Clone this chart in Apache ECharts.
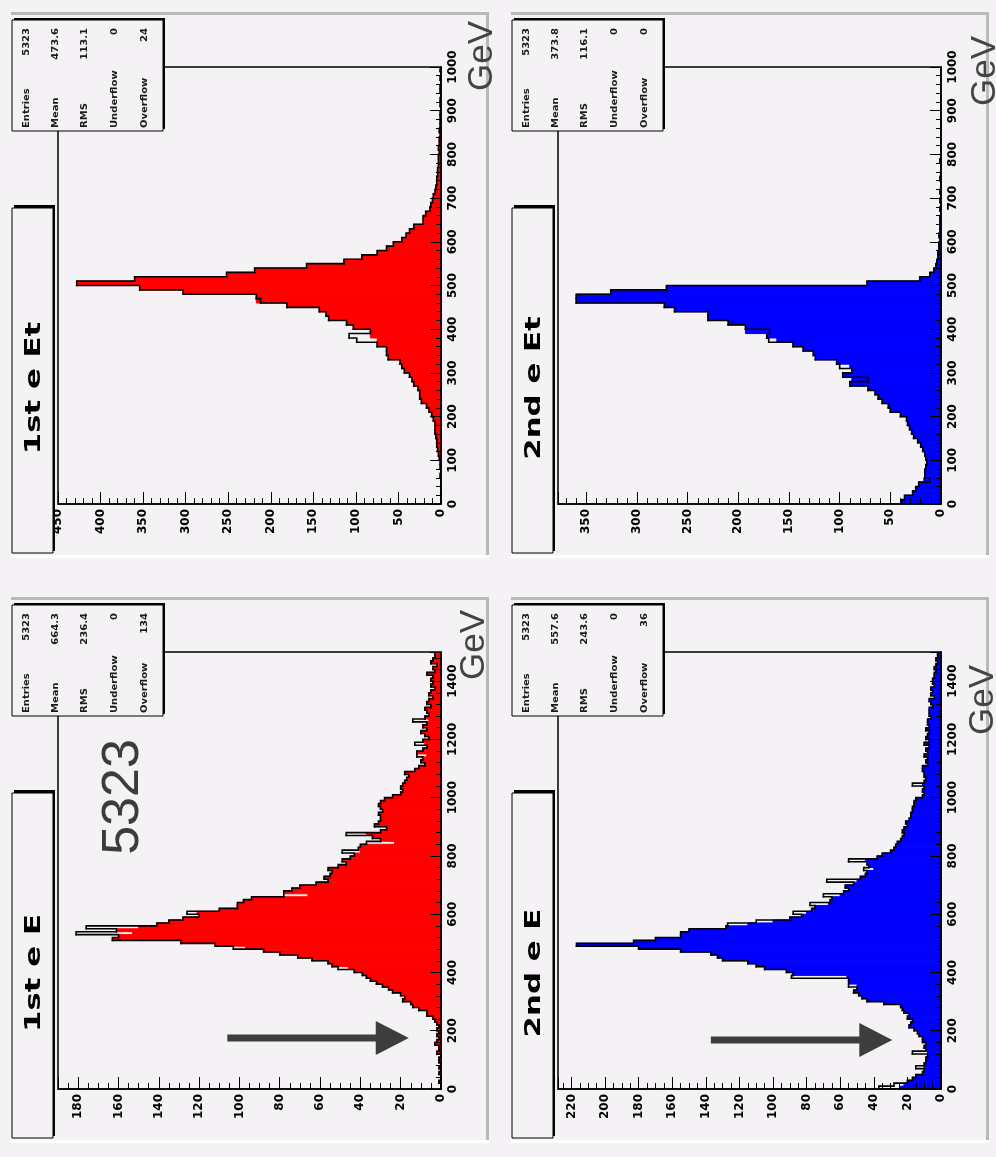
<!DOCTYPE html>
<html>
<head>
<meta charset="utf-8">
<script src="https://cdn.jsdelivr.net/npm/echarts@6/dist/echarts.min.js"></script>
<style>
html, body { margin: 0; padding: 0; background: #f5f2f5; }
#chart { width: 996px; height: 1157px; }
</style>
</head>
<body>
<div id="chart"></div>
<script>
// Electron energy spectra, 10 GeV bins. *_FILL = filled histogram, *_LINE = overlaid outline histogram.
const BIN_WIDTH = 10;

const STAT_NAMES = ['Entries', 'Mean', 'RMS', 'Underflow', 'Overflow'];
const STATS_ET1 = ['5323', '473.6', '113.1', '0', '24'];
const STATS_ET2 = ['5323', '373.8', '116.1', '0', '0'];
const STATS_E1 = ['5323', '664.3', '236.4', '0', '134'];
const STATS_E2 = ['5323', '557.6', '243.6', '0', '36'];

// 1st e Et, 0-1000 GeV
const ET1_FILL = [
  0, 0, 0, 0, 0, 0, 1, 0, 1, 1,
  2, 3, 4, 5, 5, 6, 7, 7, 7, 9,
  11, 14, 17, 23, 25, 25, 27, 32, 34, 37,
  43, 46, 48, 62, 64, 64, 75, 75, 83, 83,
  103, 111, 132, 135, 143, 181, 217, 217, 303, 354,
  428, 360, 252, 219, 158, 114, 93, 75, 64, 56,
  46, 41, 37, 32, 21, 21, 18, 13, 12, 10,
  9, 7, 6, 5, 5, 4, 4, 3, 3, 3,
  2, 3, 2, 2, 1, 2, 1, 1, 1, 1,
  0, 1, 1, 0, 1, 1, 0, 1, 0, 1
];
const ET1_LINE = [
  0, 0, 0, 0, 0, 0, 1, 0, 1, 1,
  2, 3, 4, 5, 5, 6, 7, 7, 7, 9,
  11, 14, 17, 23, 25, 25, 27, 32, 34, 37,
  43, 46, 48, 62, 64, 64, 75, 99, 108, 83,
  103, 111, 132, 135, 143, 181, 212, 217, 303, 354,
  428, 360, 252, 219, 158, 114, 93, 75, 64, 56,
  46, 41, 37, 32, 21, 21, 18, 13, 12, 10,
  9, 7, 6, 5, 5, 4, 4, 3, 3, 3,
  2, 3, 2, 2, 1, 2, 1, 1, 1, 1,
  0, 1, 1, 0, 1, 1, 0, 1, 0, 1
];

// 2nd e Et, 0-1000 GeV
const ET2_FILL = [
  39, 36, 28, 25, 22, 17, 16, 16, 15, 14,
  15, 16, 18, 20, 23, 27, 29, 31, 33, 34,
  40, 50, 52, 58, 62, 65, 72, 90, 88, 97,
  88, 90, 103, 124, 126, 136, 146, 162, 172, 193,
  193, 210, 230, 230, 263, 273, 360, 360, 326, 271,
  73, 21, 11, 7, 5, 4, 3, 3, 2, 2,
  1, 2, 1, 1, 1, 1, 0, 1, 0, 1,
  0, 1, 0, 0, 1, 0, 0, 0, 1, 0,
  0, 0, 0, 0, 0, 0, 0, 0, 0, 0,
  0, 0, 0, 0, 0, 0, 0, 0, 0, 0
];
const ET2_LINE = [
  39, 36, 28, 25, 22, 11, 16, 16, 15, 14,
  15, 16, 18, 20, 23, 27, 29, 31, 33, 34,
  40, 50, 52, 58, 62, 65, 72, 90, 72, 97,
  88, 100, 103, 124, 126, 136, 146, 170, 172, 169,
  193, 210, 230, 230, 263, 273, 360, 360, 326, 271,
  73, 21, 11, 7, 5, 4, 3, 3, 2, 2,
  1, 2, 1, 1, 1, 1, 0, 1, 0, 1,
  0, 1, 0, 0, 1, 0, 0, 0, 1, 0,
  0, 0, 0, 0, 0, 0, 0, 0, 0, 0,
  0, 0, 0, 0, 0, 0, 0, 0, 0, 0
];

// 1st e E, 0-1500 GeV
const E1_FILL = [
  0, 0, 1, 0, 0, 1, 0, 1, 0, 1,
  1, 0, 2, 1, 1, 3, 2, 1, 2, 1,
  2, 1, 2, 3, 4, 7, 7, 11, 14, 15,
  19, 18, 20, 24, 26, 29, 32, 35, 37, 39,
  43, 46, 54, 56, 64, 71, 80, 88, 97, 112,
  129, 163, 160, 153, 161, 150, 141, 135, 128, 120,
  121, 110, 101, 101, 98, 94, 66, 78, 74, 70,
  62, 56, 58, 55, 54, 56, 51, 47, 49, 45,
  43, 40, 41, 40, 23, 30, 34, 37, 30, 27,
  33, 31, 30, 30, 31, 29, 30, 31, 30, 28,
  24, 20, 19, 20, 19, 18, 17, 16, 18, 13,
  11, 8, 10, 9, 7, 12, 9, 7, 8, 9,
  6, 8, 10, 7, 9, 7, 6, 8, 6, 7,
  8, 5, 7, 6, 4, 6, 5, 3, 5, 4,
  5, 4, 7, 3, 4, 2, 5, 4, 3, 3
];
const E1_LINE = [
  0, 0, 1, 0, 0, 1, 0, 1, 0, 1,
  1, 0, 2, 1, 1, 3, 2, 1, 2, 1,
  2, 1, 2, 3, 4, 7, 7, 11, 14, 15,
  19, 18, 20, 24, 26, 29, 32, 35, 37, 39,
  43, 51, 54, 56, 64, 71, 80, 88, 103, 112,
  129, 163, 160, 181, 161, 176, 141, 135, 128, 120,
  126, 110, 101, 101, 98, 94, 78, 78, 74, 70,
  62, 56, 58, 55, 54, 56, 51, 47, 49, 45,
  43, 49, 41, 40, 37, 30, 34, 47, 30, 27,
  33, 31, 30, 30, 31, 29, 30, 31, 30, 28,
  24, 20, 19, 20, 19, 18, 17, 16, 18, 13,
  11, 8, 10, 9, 12, 12, 9, 7, 13, 9,
  6, 8, 10, 7, 9, 7, 14, 8, 6, 7,
  8, 5, 7, 6, 4, 6, 5, 3, 5, 4,
  5, 4, 7, 3, 4, 2, 5, 4, 3, 3
];

// 2nd e E, 0-1500 GeV
const E2_FILL = [
  24, 22, 20, 17, 15, 11, 10, 10, 10, 9,
  9, 8, 8, 9, 10, 9, 11, 11, 13, 14,
  16, 19, 18, 17, 20, 19, 22, 23, 24, 34,
  44, 47, 49, 52, 50, 50, 55, 55, 56, 88,
  92, 105, 110, 115, 130, 133, 137, 155, 180, 217,
  183, 170, 155, 155, 150, 128, 115, 100, 90, 83,
  80, 77, 75, 67, 66, 65, 60, 58, 55, 57,
  52, 50, 48, 45, 44, 40, 43, 44, 45, 38,
  35, 30, 28, 27, 26, 24, 23, 22, 23, 22,
  20, 21, 19, 18, 18, 17, 17, 16, 16, 15,
  11, 10, 11, 10, 11, 10, 9, 10, 10, 11,
  11, 8, 9, 8, 10, 8, 9, 7, 10, 7,
  9, 8, 7, 9, 7, 8, 8, 6, 7, 7,
  7, 5, 6, 7, 4, 6, 5, 6, 4, 5,
  5, 4, 4, 3, 4, 3, 2, 3, 2, 2
];
const E2_LINE = [
  37, 28, 20, 17, 15, 11, 10, 15, 10, 9,
  9, 8, 17, 9, 10, 9, 11, 11, 13, 14,
  16, 19, 18, 17, 20, 19, 22, 23, 24, 34,
  44, 47, 49, 52, 50, 55, 55, 55, 89, 88,
  92, 105, 110, 115, 130, 133, 137, 155, 180, 217,
  183, 170, 155, 155, 150, 128, 127, 110, 90, 83,
  88, 77, 75, 78, 66, 65, 70, 58, 55, 57,
  52, 68, 48, 45, 44, 46, 43, 44, 55, 38,
  35, 30, 28, 27, 26, 24, 23, 22, 23, 22,
  20, 21, 19, 18, 18, 17, 17, 16, 16, 15,
  11, 10, 11, 10, 17, 10, 9, 10, 10, 11,
  11, 8, 9, 8, 10, 8, 9, 7, 10, 7,
  9, 8, 7, 9, 7, 8, 8, 6, 7, 7,
  7, 5, 6, 7, 4, 6, 5, 6, 4, 5,
  5, 4, 4, 3, 4, 3, 2, 3, 2, 2
];

const BG = '#f5f2f5';

// Pad layout: each pad is drawn rotated a quarter turn (energy runs upward, counts run leftward).
const PANELS = [
  { title: '1st e Et', fill: ET1_FILL, line: ET1_LINE, color: '#ff0000', stats: STATS_ET1,
    countMax: 450, countStep: 50, countMinor: 5, gevMax: 1000, gevStep: 100, ox: 0, oy: 0, unit: [482, 56] },
  { title: '2nd e Et', fill: ET2_FILL, line: ET2_LINE, color: '#0000ff', stats: STATS_ET2,
    countMax: 378, countStep: 50, countMinor: 5, gevMax: 1000, gevStep: 100, ox: 500, oy: 0, unit: [985, 71] },
  { title: '1st e E', fill: E1_FILL, line: E1_LINE, color: '#ff0000', stats: STATS_E1,
    countMax: 190, countStep: 20, countMinor: 4, gevMax: 1500, gevStep: 200, ox: 0, oy: 585, unit: [474, 645] },
  { title: '2nd e E', fill: E2_FILL, line: E2_LINE, color: '#0000ff', stats: STATS_E2,
    countMax: 228, countStep: 20, countMinor: 4, gevMax: 1500, gevStep: 200, ox: 500, oy: 585, unit: [983, 700] }
];

// Annotation arrows, in [count, GeV] coordinates of their pad: tail count, tip count, energy.
const ARROWS = [
  { panel: 2, tail: 106, tip: 16, gev: 175 },
  { panel: 3, tail: 137, tip: 29, gev: 168 }
];

const TICK_LABEL = { fontFamily: 'DejaVu Sans', fontWeight: 'bold', fontSize: 12, color: '#000' };
const QUARTER = Math.PI / 2;

function stepFormatter(step) {
  return function (v) { return Math.abs(v % step) < 1e-6 ? String(v) : ''; };
}

function rotatedText(x, y, text, opts) {
  return {
    type: 'text', x: x, y: y, rotation: QUARTER, scaleX: opts.scale || 1, z: opts.z || 110, silent: true,
    style: {
      text: text, fill: opts.color || '#000',
      fontFamily: opts.family || 'DejaVu Sans', fontWeight: opts.weight || 'normal', fontSize: opts.size,
      align: opts.align || 'center', verticalAlign: 'middle',
      textAlign: opts.align || 'center', textVerticalAlign: 'middle'
    }
  };
}

const grids = [], xAxes = [], yAxes = [], series = [], graphics = [];

PANELS.forEach(function (p, i) {
  grids.push({
    left: 58 + p.ox, top: 67 + p.oy, width: 383, height: 437,
    show: true, backgroundColor: BG, borderColor: '#000', borderWidth: 1.5
  });
  xAxes.push({
    gridIndex: i, type: 'value', position: 'bottom', inverse: true, z: 5,
    min: 0, max: p.countMax, interval: p.countStep,
    axisLine: { show: true, onZero: false, lineStyle: { color: '#000', width: 1.6 } },
    axisTick: { show: true, inside: true, length: 12, lineStyle: { color: '#000', width: 1 } },
    minorTick: { show: true, splitNumber: p.countMinor, length: 6, lineStyle: { color: '#000', width: 1 } },
    axisLabel: Object.assign({ rotate: 90, margin: 5, formatter: stepFormatter(p.countStep) }, TICK_LABEL),
    splitLine: { show: false }
  });
  yAxes.push({
    gridIndex: i, type: 'value', position: 'right', z: 5,
    min: 0, max: p.gevMax, interval: p.gevStep,
    axisLine: { show: true, onZero: false, lineStyle: { color: '#000', width: 1.6 } },
    axisTick: { show: true, inside: true, length: 11, lineStyle: { color: '#000', width: 1 } },
    minorTick: { show: true, splitNumber: 5, length: 5, lineStyle: { color: '#000', width: 1 } },
    axisLabel: Object.assign({ rotate: 90, margin: 6, formatter: stepFormatter(p.gevStep) }, TICK_LABEL),
    splitLine: { show: false }
  });

  // filled histogram: one rectangle per bin, from 0 counts out to the bin content
  series.push({
    type: 'custom', name: p.title, xAxisIndex: i, yAxisIndex: i, z: 2, clip: true, silent: true,
    data: p.fill.map(function (v, k) { return [v, k * BIN_WIDTH, (k + 1) * BIN_WIDTH]; }),
    encode: { x: 0, y: 1 },
    renderItem: function (params, api) {
      const v = api.value(0);
      if (!v) return null;
      const a = api.coord([0, api.value(1)]);
      const b = api.coord([v, api.value(2)]);
      return {
        type: 'rect',
        shape: { x: Math.min(a[0], b[0]), y: Math.min(a[1], b[1]), width: Math.abs(a[0] - b[0]), height: Math.abs(a[1] - b[1]) },
        style: { fill: p.color, stroke: p.color, lineWidth: 1 }
      };
    }
  });

  // outline histogram: step line through the bin contents
  const line = p.line;
  series.push({
    type: 'custom', name: p.title + ' outline', xAxisIndex: i, yAxisIndex: i, z: 3, clip: true, silent: true,
    data: line.map(function (v, k) {
      return [v, k * BIN_WIDTH, (k + 1) * BIN_WIDTH, k + 1 < line.length ? line[k + 1] : 0];
    }),
    encode: { x: 0, y: 1 },
    renderItem: function (params, api) {
      const v = api.value(0), lo = api.value(1), hi = api.value(2), next = api.value(3);
      const pts = [];
      if (params.dataIndex === 0) pts.push(api.coord([0, lo]));
      pts.push(api.coord([v, lo]), api.coord([v, hi]), api.coord([next, hi]));
      return {
        type: 'polyline', shape: { points: pts },
        style: { stroke: '#000', lineWidth: 1.6, fill: 'none', lineJoin: 'miter', lineCap: 'square' }
      };
    }
  });

  const ox = p.ox, oy = p.oy;
  // pad bevel
  graphics.push(
    { type: 'rect', z: 1, silent: true, shape: { x: ox + 11, y: oy + 12, width: 478, height: 3 }, style: { fill: '#b9b9b9' } },
    { type: 'rect', z: 1, silent: true, shape: { x: ox + 486, y: oy + 12, width: 3, height: 544 }, style: { fill: '#b9b9b9' } },
    { type: 'rect', z: 1, silent: true, shape: { x: ox + 11, y: oy + 555, width: 478, height: 3 }, style: { fill: '#ffffff' } }
  );
  // title box with shadow
  graphics.push(
    { type: 'rect', z: 100, silent: true, shape: { x: ox + 14, y: oy + 205, width: 41, height: 346 }, style: { fill: '#000' } },
    { type: 'rect', z: 101, silent: true, shape: { x: ox + 12, y: oy + 208, width: 41, height: 345 }, style: { fill: BG, stroke: '#000', lineWidth: 1 } },
    rotatedText(ox + 34, oy + 388, p.title, { size: 22, weight: 'bold', scale: 1.4 })
  );
  // statistics box with shadow
  graphics.push(
    { type: 'rect', z: 100, silent: true, shape: { x: ox + 14, y: oy + 18, width: 151, height: 111 }, style: { fill: '#000' } },
    { type: 'rect', z: 101, silent: true, shape: { x: ox + 12, y: oy + 20, width: 151, height: 111 }, style: { fill: BG, stroke: '#000', lineWidth: 1 } }
  );
  const cols = [27, 56, 85, 115, 145];
  STAT_NAMES.forEach(function (name, k) {
    graphics.push(
      rotatedText(ox + cols[k], oy + 128, name, { size: 8, weight: 'bold', scale: 1.25, align: 'left', color: '#1a1a1a' }),
      rotatedText(ox + cols[k], oy + 28, p.stats[k], { size: 8, weight: 'bold', scale: 1.25, align: 'right', color: '#1a1a1a' })
    );
  });
  // energy unit
  graphics.push(rotatedText(p.unit[0], p.unit[1], 'GeV', { size: 35, family: 'Liberation Sans', color: '#444444', z: 120 }));
});

// total entries note on the 1st e E pad
graphics.push(rotatedText(124, 797, '5323', { size: 52, family: 'Liberation Sans', color: '#3c3c3c', z: 120 }));

// arrows: shaft plus triangular head, placed through the pad's axes
ARROWS.forEach(function (a) {
  series.push({
    type: 'custom', name: 'arrow', xAxisIndex: a.panel, yAxisIndex: a.panel, z: 4, clip: false, silent: true,
    data: [[a.tail, a.tip, a.gev]],
    encode: { x: 0, y: 2 },
    renderItem: function (params, api) {
      const p0 = api.coord([api.value(0), api.value(2)]);
      const p1 = api.coord([api.value(1), api.value(2)]);
      const dx = p1[0] - p0[0], dy = p1[1] - p0[1];
      const len = Math.sqrt(dx * dx + dy * dy);
      const ux = dx / len, uy = dy / len;
      const headLen = 33, halfW = 17;
      const bx = p1[0] - ux * headLen, by = p1[1] - uy * headLen;
      return {
        type: 'group',
        children: [
          { type: 'line', shape: { x1: p0[0], y1: p0[1], x2: bx + ux, y2: by + uy },
            style: { stroke: '#3d3d3d', lineWidth: 7 } },
          { type: 'polygon', shape: { points: [[p1[0], p1[1]], [bx - uy * halfW, by + ux * halfW], [bx + uy * halfW, by - ux * halfW]] },
            style: { fill: '#3d3d3d' } }
        ]
      };
    }
  });
});

const chart = echarts.init(document.getElementById('chart'), null, { renderer: 'canvas' });
chart.setOption({
  backgroundColor: BG,
  animation: false,
  grid: grids,
  xAxis: xAxes,
  yAxis: yAxes,
  series: series,
  graphic: { elements: graphics }
});
</script>
</body>
</html>
